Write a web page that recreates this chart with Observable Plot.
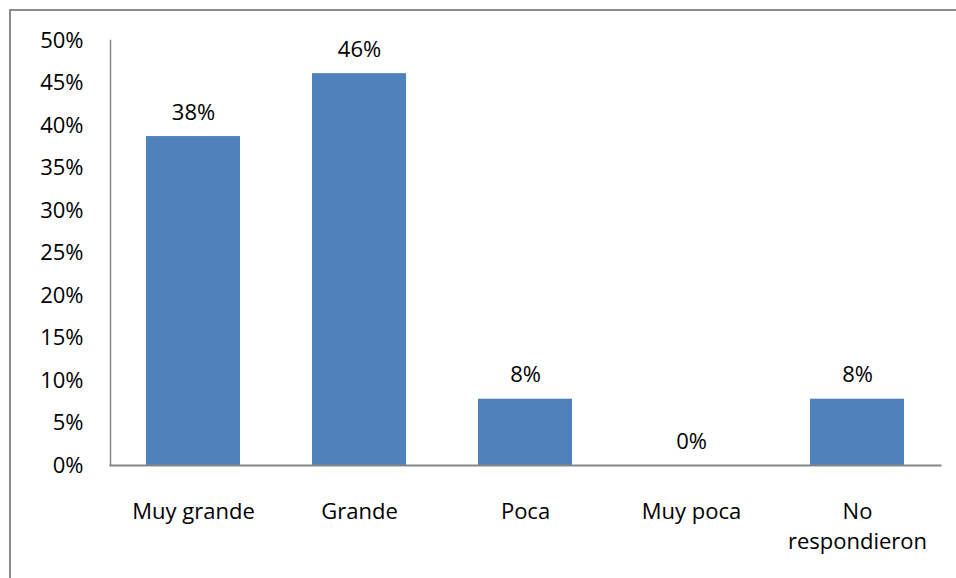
<!DOCTYPE html>
<html>
<head>
<meta charset="utf-8">
<script src="https://cdn.jsdelivr.net/npm/d3@7"></script>
<script src="https://cdn.jsdelivr.net/npm/@observablehq/plot@0.6"></script>
<style>
  html, body { margin: 0; padding: 0; background: #fff; }
  #wrap { position: relative; width: 956px; height: 578px; overflow: hidden; }
  #frame { position: absolute; left: 9px; top: 9px; width: 2000px; height: 2000px;
           border-left: 2px solid #8c8c8c; border-top: 2px solid #8c8c8c; box-sizing: border-box; }
  #chart { position: absolute; left: 0; top: 0; }
</style>
</head>
<body>
<div id="wrap"><div id="frame"></div><div id="chart"></div></div>
<script>
const categories = ["Muy grande", "Grande", "Poca", "Muy poca", "No\nrespondieron"];
const values = [0.387, 0.461, 0.078, 0.0, 0.078];
const valueLabels = ["38%", "46%", "8%", "0%", "8%"];
const yTicks = [0, 0.05, 0.10, 0.15, 0.20, 0.25, 0.30, 0.35, 0.40, 0.45, 0.50];

const data = categories.map((c, i) => ({ cat: c, v: values[i], label: valueLabels[i] }));
const pct = d3.format(".0%");
const FS = 22;

const chart = Plot.plot({
  width: 956,
  height: 578,
  marginLeft: 110,
  marginRight: 16,
  marginTop: 40,
  marginBottom: 113,
  style: { fontFamily: "'Open Sans', Lato, sans-serif", fontSize: FS + "px", color: "#000", background: "transparent" },
  x: { domain: categories, paddingInner: 0.434, paddingOuter: 0.217, label: null },
  y: { domain: [0, 0.5], label: null },
  marks: [
    Plot.barY(data, { x: "cat", y: "v", fill: "#4F81BD" }),
    Plot.frame({ anchor: "left", stroke: "#868686", strokeWidth: 1.5 }),
    Plot.frame({ anchor: "bottom", stroke: "#868686", strokeWidth: 2 }),
    Plot.axisY({ ticks: yTicks, tickFormat: pct, tickSize: 0, tickPadding: 27, fontSize: FS, fill: "#000", label: null }),
    Plot.axisX({ tickSize: 0, tickPadding: 32, fontSize: FS, fill: "#000", lineHeight: 1.36, label: null }),
    Plot.text(data, { x: "cat", y: "v", text: "label", dy: -24, fontSize: FS, fill: "#000" })
  ]
});
document.getElementById("chart").appendChild(chart);
</script>
</body>
</html>
